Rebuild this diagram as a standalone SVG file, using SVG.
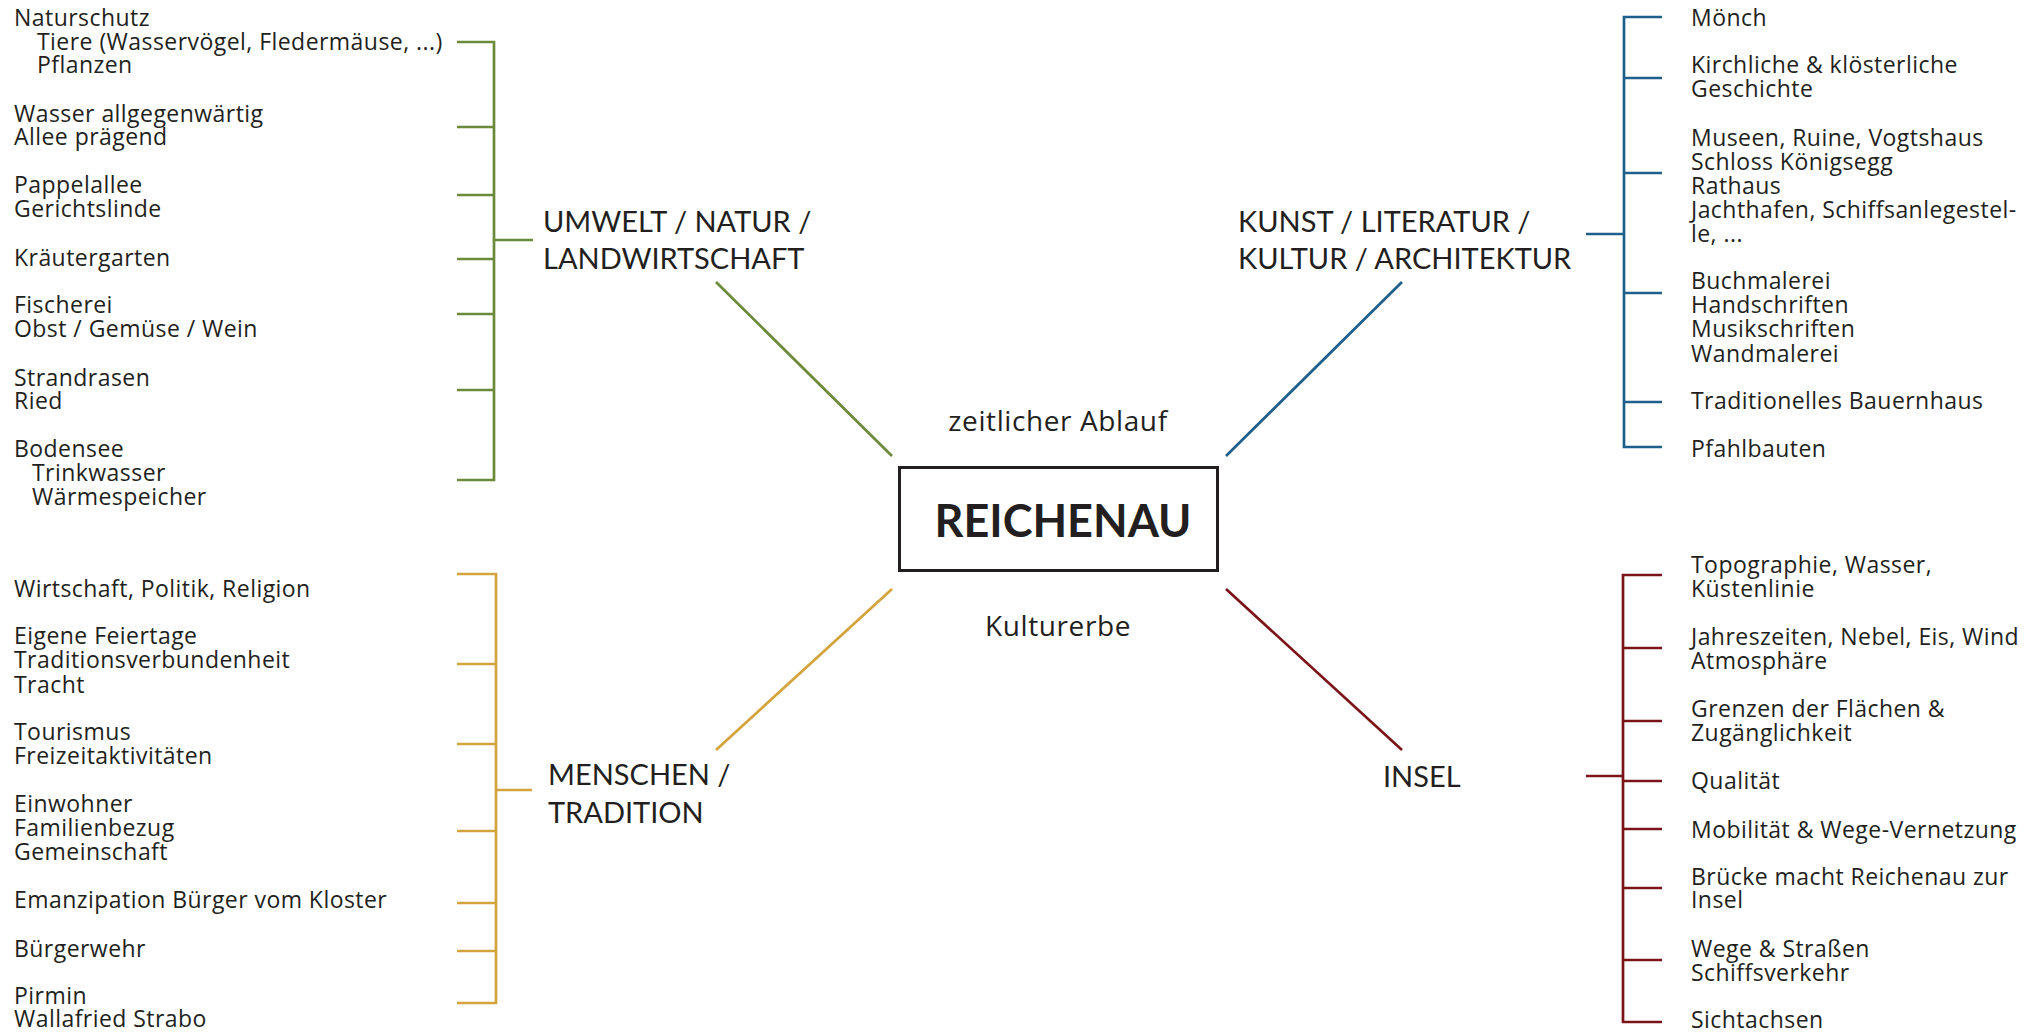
<svg xmlns="http://www.w3.org/2000/svg" width="2042" height="1032" viewBox="0 0 2042 1032">
<style>
text{font-family:"Open Sans","Noto Sans",sans-serif;fill:#231f20}
.s{font-size:23px;letter-spacing:0.45px}
.c{font-size:29px;font-family:Lato,"Open Sans",sans-serif}
.m{font-size:28px;letter-spacing:0.6px}
.t{font-size:45px;font-weight:bold;font-family:Lato,"Open Sans",sans-serif}
.g{stroke:#6b8a3a}
.b{stroke:#1f5f8b}
.y{stroke:#d4a43c}
.r{stroke:#7a1418}
.ln{fill:none;stroke-width:2.7}
</style>
<rect width="2042" height="1032" fill="#fff"/>
<g id="connectors">
<path class="ln g" d="M716,282L892,456"/>
<path class="ln b" d="M1402,282L1226,456"/>
<path class="ln y" d="M716,750L892,589"/>
<path class="ln r" d="M1402,750L1226,589"/>
<path class="ln g" d="M457,42H494V480H457M457,127H494M457,195H494M457,259H494M457,314H494M457,390H494M494,240H533"/>
<path class="ln y" d="M457,574H496V1003H457M457,664H496M457,744H496M457,831H496M457,903H496M457,951H496M496,790H532"/>
<path class="ln b" d="M1662,17H1624V447H1662M1624,78H1662M1624,173H1662M1624,293H1662M1624,402H1662M1586,234H1624"/>
<path class="ln r" d="M1662,575H1623V1022H1662M1623,648H1662M1623,721H1662M1623,781H1662M1623,829H1662M1623,888H1662M1623,960H1662M1586,776H1623"/>
</g>
<g id="center">
<rect x="899.5" y="467.5" width="318" height="103" fill="none" stroke="#231f20" stroke-width="3"/>
<text class="t" x="1063" y="537" text-anchor="middle">REICHENAU</text>
</g>
<g id="label-zeit"><text class="m" x="1058" y="431" text-anchor="middle">zeitlicher Ablauf</text></g>
<g id="label-kultur"><text class="m" x="1058" y="636" text-anchor="middle">Kulturerbe</text></g>
<g id="cat-umwelt"><text class="c"><tspan x="543" y="232">UMWELT / NATUR /</tspan><tspan x="543" y="269">LANDWIRTSCHAFT</tspan></text></g>
<g id="cat-kunst"><text class="c"><tspan x="1238" y="232">KUNST / LITERATUR /</tspan><tspan x="1238" y="269">KULTUR / ARCHITEKTUR</tspan></text></g>
<g id="cat-menschen"><text class="c"><tspan x="548" y="785">MENSCHEN /</tspan><tspan x="548" y="823">TRADITION</tspan></text></g>
<g id="cat-insel"><text class="c" x="1383" y="787">INSEL</text></g>
<g id="umwelt-leaves">
<g id="u1"><text class="s"><tspan x="14" y="26">Naturschutz</tspan><tspan x="37" y="50">Tiere (Wasservögel, Fledermäuse, ...)</tspan><tspan x="37" y="73">Pflanzen</tspan></text></g>
<g id="u2"><text class="s"><tspan x="14" y="122">Wasser allgegenwärtig</tspan><tspan x="14" y="145">Allee prägend</tspan></text></g>
<g id="u3"><text class="s"><tspan x="14" y="193">Pappelallee</tspan><tspan x="14" y="217">Gerichtslinde</tspan></text></g>
<g id="u4"><text class="s" x="14" y="266">Kräutergarten</text></g>
<g id="u5"><text class="s"><tspan x="14" y="313">Fischerei</tspan><tspan x="14" y="337">Obst / Gemüse / Wein</tspan></text></g>
<g id="u6"><text class="s"><tspan x="14" y="386">Strandrasen</tspan><tspan x="14" y="409">Ried</tspan></text></g>
<g id="u7"><text class="s"><tspan x="14" y="457">Bodensee</tspan><tspan x="32" y="481">Trinkwasser</tspan><tspan x="32" y="505">Wärmespeicher</tspan></text></g>
</g>
<g id="menschen-leaves">
<g id="m1"><text class="s" x="14" y="597">Wirtschaft, Politik, Religion</text></g>
<g id="m2"><text class="s"><tspan x="14" y="644">Eigene Feiertage</tspan><tspan x="14" y="668">Traditionsverbundenheit</tspan><tspan x="14" y="693">Tracht</tspan></text></g>
<g id="m3"><text class="s"><tspan x="14" y="740">Tourismus</tspan><tspan x="14" y="764">Freizeitaktivitäten</tspan></text></g>
<g id="m4"><text class="s"><tspan x="14" y="812">Einwohner</tspan><tspan x="14" y="836">Familienbezug</tspan><tspan x="14" y="860">Gemeinschaft</tspan></text></g>
<g id="m5"><text class="s" x="14" y="908">Emanzipation Bürger vom Kloster</text></g>
<g id="m6"><text class="s" x="14" y="957">Bürgerwehr</text></g>
<g id="m7"><text class="s"><tspan x="14" y="1004">Pirmin</tspan><tspan x="14" y="1027">Wallafried Strabo</tspan></text></g>
</g>
<g id="kunst-leaves">
<g id="k1"><text class="s" x="1691" y="26">Mönch</text></g>
<g id="k2"><text class="s"><tspan x="1691" y="73">Kirchliche &amp; klösterliche</tspan><tspan x="1691" y="97">Geschichte</tspan></text></g>
<g id="k3"><text class="s"><tspan x="1691" y="146">Museen, Ruine, Vogtshaus</tspan><tspan x="1691" y="170">Schloss Königsegg</tspan><tspan x="1691" y="194">Rathaus</tspan><tspan x="1691" y="218">Jachthafen, Schiffsanlegestel-</tspan><tspan x="1691" y="242">le, ...</tspan></text></g>
<g id="k4"><text class="s"><tspan x="1691" y="289">Buchmalerei</tspan><tspan x="1691" y="313">Handschriften</tspan><tspan x="1691" y="337">Musikschriften</tspan><tspan x="1691" y="362">Wandmalerei</tspan></text></g>
<g id="k5"><text class="s" x="1691" y="409">Traditionelles Bauernhaus</text></g>
<g id="k6"><text class="s" x="1691" y="457">Pfahlbauten</text></g>
</g>
<g id="insel-leaves">
<g id="i1"><text class="s"><tspan x="1691" y="573">Topographie, Wasser,</tspan><tspan x="1691" y="597">Küstenlinie</tspan></text></g>
<g id="i2"><text class="s"><tspan x="1691" y="645">Jahreszeiten, Nebel, Eis, Wind</tspan><tspan x="1691" y="669">Atmosphäre</tspan></text></g>
<g id="i3"><text class="s"><tspan x="1691" y="717">Grenzen der Flächen &amp;</tspan><tspan x="1691" y="741">Zugänglichkeit</tspan></text></g>
<g id="i4"><text class="s" x="1691" y="789">Qualität</text></g>
<g id="i5"><text class="s" x="1691" y="838">Mobilität &amp; Wege-Vernetzung</text></g>
<g id="i6"><text class="s"><tspan x="1691" y="885">Brücke macht Reichenau zur</tspan><tspan x="1691" y="908">Insel</tspan></text></g>
<g id="i7"><text class="s"><tspan x="1691" y="957">Wege &amp; Straßen</tspan><tspan x="1691" y="981">Schiffsverkehr</tspan></text></g>
<g id="i8"><text class="s" x="1691" y="1028">Sichtachsen</text></g>
</g>
</svg>
